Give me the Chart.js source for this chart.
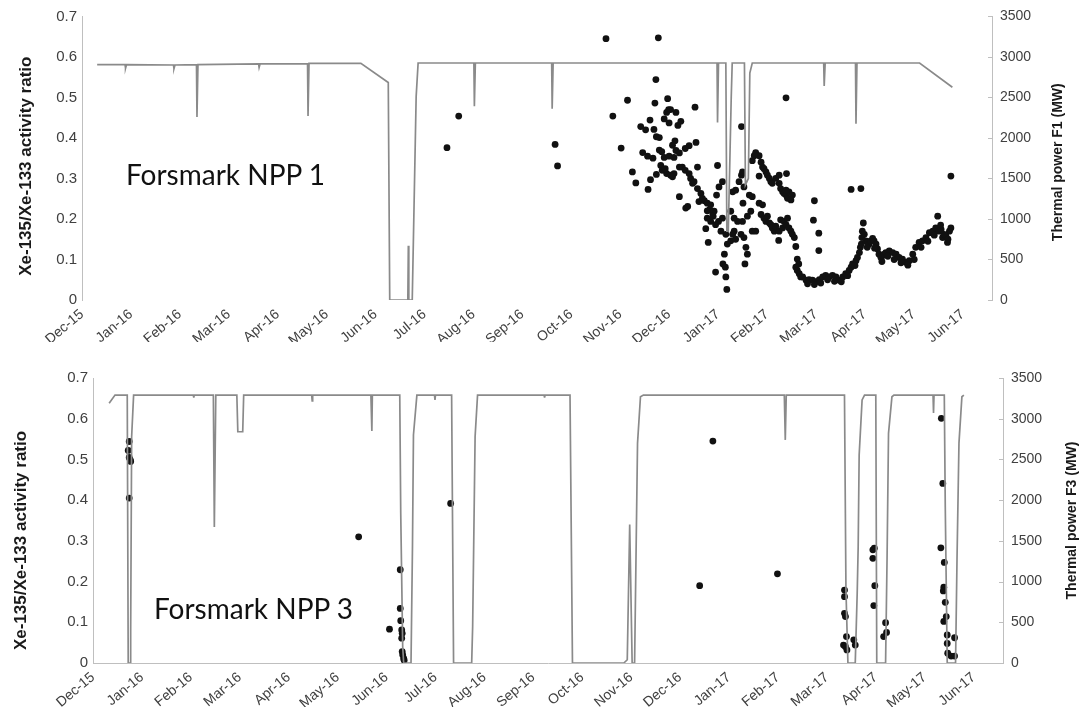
<!DOCTYPE html>
<html>
<head>
<meta charset="utf-8">
<script src="https://cdn.jsdelivr.net/npm/chart.js@4"></script>
<style>
  body { margin: 0; background: #fff; }
  #wrap { position: relative; width: 1082px; height: 707px; overflow: hidden; }
  .pane { position: absolute; left: 0; }
  .plant { position: absolute; font-family: Lato, "Open Sans", sans-serif; font-size: 28px; line-height: 28px; color: #111; white-space: nowrap; }
</style>
</head>
<body>
<div id="wrap">
  <canvas id="top" class="pane" style="top:0" width="1082" height="342"></canvas>
  <canvas id="bottom" class="pane" style="top:358px" width="1082" height="349"></canvas>
  <div class="plant" style="left:126px;top:160px">Forsmark NPP 1</div>
  <div class="plant" style="left:154px;top:594px">Forsmark NPP 3</div>
</div>
<script>
// x values are months counted from Dec-15 (0) to Jun-17 (18)
var monthLabels = ['Dec-15', 'Jan-16', 'Feb-16', 'Mar-16', 'Apr-16', 'May-16', 'Jun-16', 'Jul-16', 'Aug-16',
  'Sep-16', 'Oct-16', 'Nov-16', 'Dec-16', 'Jan-17', 'Feb-17', 'Mar-17', 'Apr-17', 'May-17', 'Jun-17']
var ratioTicks = [0, 0.1, 0.2, 0.3, 0.4, 0.5, 0.6, 0.7]
var powerTicks = [0, 500, 1000, 1500, 2000, 2500, 3000, 3500]

// Xe-135/Xe-133 ratio, unit 1
var npp1Ratio = [
  [7.46, 0.376], [7.70, 0.454], [9.67, 0.384], [9.72, 0.331],
  [10.71, 0.645], [11.78, 0.647], [11.73, 0.544], [11.15, 0.493], [10.85, 0.454], [11.02, 0.375],
  [11.25, 0.316], [11.32, 0.289], [11.57, 0.273], [11.62, 0.297],
  [11.42, 0.428], [11.52, 0.420], [11.61, 0.444], [11.69, 0.421], [11.74, 0.403], [11.80, 0.401],
  [11.71, 0.486], [11.97, 0.497], [11.99, 0.470], [11.95, 0.463], [12.03, 0.470], [12.14, 0.463],
  [11.90, 0.447], [12.00, 0.437], [12.18, 0.431], [12.24, 0.441], [12.53, 0.476], [12.12, 0.393],
  [12.07, 0.382], [12.14, 0.369], [12.21, 0.363], [12.10, 0.352], [12.41, 0.381], [12.33, 0.374],
  [12.55, 0.389], [12.27, 0.328],
  [11.46, 0.364], [11.56, 0.355], [11.67, 0.350], [11.80, 0.370], [11.85, 0.366], [11.90, 0.352],
  [11.83, 0.332], [11.86, 0.320], [11.95, 0.312], [12.03, 0.308], [12.10, 0.312], [12.00, 0.355],
  [12.21, 0.328], [12.33, 0.320], [12.41, 0.312], [12.48, 0.288], [12.44, 0.300], [12.58, 0.275],
  [12.65, 0.263], [12.61, 0.243], [12.72, 0.245], [12.78, 0.239], [12.85, 0.235], [12.92, 0.219],
  [12.97, 0.259], [13.02, 0.279], [13.09, 0.292], [12.99, 0.332], [12.89, 0.215], [12.78, 0.202],
  [12.85, 0.194], [12.95, 0.186], [12.75, 0.176], [13.06, 0.170], [13.16, 0.162], [13.19, 0.138],
  [13.13, 0.113], [13.10, 0.089], [13.15, 0.081], [13.16, 0.057], [13.18, 0.026], [12.95, 0.069],
  [12.80, 0.142], [12.21, 0.255], [12.34, 0.227], [12.38, 0.231], [11.74, 0.310], [12.58, 0.328],
  [11.92, 0.324], [12.07, 0.304], [12.51, 0.292], [12.68, 0.251], [12.83, 0.223], [12.90, 0.207],
  [13.01, 0.194], [13.09, 0.202], [12.78, 0.220],
  [13.30, 0.267], [13.36, 0.271], [13.43, 0.292], [13.48, 0.308], [13.50, 0.316], [13.53, 0.279],
  [13.51, 0.239], [13.64, 0.259], [13.70, 0.255], [13.67, 0.219], [13.60, 0.207], [13.50, 0.194],
  [13.40, 0.194], [13.33, 0.170], [13.26, 0.146], [13.30, 0.162], [13.36, 0.150], [13.47, 0.162],
  [13.53, 0.154], [13.57, 0.130], [13.60, 0.113], [13.55, 0.089], [13.70, 0.170], [13.77, 0.170],
  [13.33, 0.202], [13.26, 0.219],
  [13.70, 0.344], [13.77, 0.364], [13.84, 0.356], [13.88, 0.340], [13.91, 0.328], [13.94, 0.324],
  [13.98, 0.316], [14.01, 0.308], [14.05, 0.300], [14.08, 0.292], [14.11, 0.288], [14.18, 0.300],
  [14.25, 0.288], [14.28, 0.275], [14.32, 0.267], [14.35, 0.263], [14.39, 0.259], [14.42, 0.251],
  [14.45, 0.267], [14.52, 0.259], [14.49, 0.247], [14.39, 0.271], [14.25, 0.308], [13.74, 0.356],
  [13.84, 0.239], [13.91, 0.235], [13.88, 0.211], [13.94, 0.202], [13.98, 0.194], [14.01, 0.207],
  [14.05, 0.190], [14.08, 0.186], [14.11, 0.178], [14.15, 0.170], [14.18, 0.182], [14.25, 0.170],
  [14.32, 0.178], [14.24, 0.147], [14.28, 0.198], [14.35, 0.194], [14.39, 0.186], [14.42, 0.202],
  [14.45, 0.178], [14.49, 0.170], [14.52, 0.162], [14.56, 0.154], [14.59, 0.132], [14.62, 0.101],
  [14.65, 0.089], [14.59, 0.081], [14.62, 0.073], [14.66, 0.065], [14.69, 0.057], [14.73, 0.057],
  [14.80, 0.049], [14.86, 0.050], [14.93, 0.049], [15.00, 0.045], [15.07, 0.050], [15.14, 0.057],
  [15.20, 0.061], [15.27, 0.057], [15.34, 0.061], [15.41, 0.057], [15.48, 0.049], [15.55, 0.057],
  [15.61, 0.065], [15.68, 0.073], [15.72, 0.081], [15.75, 0.089], [15.82, 0.097], [15.85, 0.105],
  [15.89, 0.117], [15.91, 0.130], [15.93, 0.138], [15.94, 0.154], [15.95, 0.170], [15.97, 0.190],
  [15.99, 0.162], [16.02, 0.146], [16.06, 0.142], [16.09, 0.138], [16.12, 0.146], [16.16, 0.152],
  [16.19, 0.146], [16.23, 0.138], [16.26, 0.126], [16.29, 0.113], [16.33, 0.105], [16.36, 0.109],
  [16.40, 0.113], [16.43, 0.117], [16.50, 0.121], [16.57, 0.117], [16.64, 0.113], [16.70, 0.105],
  [16.77, 0.101], [16.84, 0.093], [16.91, 0.097], [16.98, 0.113], [17.04, 0.130], [17.11, 0.142],
  [17.18, 0.146], [17.25, 0.154], [17.32, 0.166], [17.39, 0.170], [17.45, 0.178], [17.49, 0.207],
  [17.52, 0.170], [17.59, 0.154], [17.66, 0.158], [17.73, 0.170], [17.76, 0.178], [17.69, 0.142],
  [17.62, 0.162], [17.56, 0.174],
  [14.83, 0.040], [14.97, 0.038], [15.10, 0.042], [15.24, 0.050], [15.38, 0.046], [15.52, 0.045],
  [15.65, 0.060], [15.80, 0.085], [16.05, 0.130], [16.20, 0.128], [16.35, 0.095], [16.47, 0.108],
  [16.60, 0.100], [16.74, 0.092], [16.88, 0.086], [17.01, 0.100], [17.15, 0.130], [17.29, 0.145],
  [17.42, 0.160], [17.55, 0.185], [17.70, 0.150],
  [13.84, 0.306], [14.95, 0.197], [15.06, 0.165], [15.06, 0.122], [14.97, 0.245], [14.40, 0.312],
  [14.39, 0.499], [13.48, 0.428], [15.72, 0.273], [15.92, 0.275], [17.76, 0.306]
]

var npp3Ratio = [
  [0.74, 0.544], [0.72, 0.522], [0.74, 0.505], [0.76, 0.499], [0.77, 0.495], [0.74, 0.405],
  [5.43, 0.310], [6.06, 0.083], [6.28, 0.229], [6.28, 0.134], [6.29, 0.104], [6.31, 0.081],
  [6.32, 0.073], [6.31, 0.061], [6.32, 0.028], [6.33, 0.020], [6.35, 0.011], [6.36, 0.007],
  [7.31, 0.392], [12.67, 0.545], [12.40, 0.190], [13.99, 0.219],
  [15.36, 0.179], [15.36, 0.163], [15.36, 0.122], [15.38, 0.114], [15.40, 0.065], [15.34, 0.044],
  [15.38, 0.040], [15.41, 0.032], [15.55, 0.057], [15.58, 0.044],
  [15.94, 0.278], [15.97, 0.282], [15.94, 0.257], [15.98, 0.190], [15.96, 0.141], [16.20, 0.099],
  [16.22, 0.075], [16.16, 0.065],
  [17.34, 0.601], [17.37, 0.441], [17.33, 0.283], [17.40, 0.247], [17.39, 0.186], [17.38, 0.177],
  [17.42, 0.149], [17.44, 0.114], [17.39, 0.102], [17.46, 0.069], [17.46, 0.048], [17.47, 0.024],
  [17.54, 0.017], [17.61, 0.062], [17.61, 0.017]
]

// thermal power, MW
var f1Power = [
  [0.31, 2905], [0.88, 2905], [0.89, 2860], [0.91, 2905], [1.87, 2900], [1.88, 2855], [1.90, 2900],
  [2.34, 2905], [2.35, 2260], [2.37, 2905], [3.61, 2915], [3.62, 2870], [3.64, 2915],
  [4.61, 2915], [4.62, 2270], [4.64, 2920], [5.70, 2920], [6.26, 2685], [6.29, 0],
  [6.66, 0], [6.67, 670], [6.68, 0], [6.75, 0], [6.83, 2510], [6.87, 2925],
  [8.01, 2925], [8.02, 2390], [8.04, 2925], [9.60, 2925], [9.61, 2360], [9.63, 2925],
  [12.98, 2925], [12.99, 2190], [13.01, 2925], [13.16, 2925], [13.18, 850], [13.21, 850],
  [13.27, 2500], [13.29, 2925], [13.54, 2925], [13.56, 1420], [13.62, 1500], [13.65, 2800],
  [13.70, 2925], [15.16, 2925], [15.17, 2640], [15.19, 2925], [15.81, 2925], [15.82, 2175],
  [15.84, 2925], [17.12, 2925], [17.79, 2625]
]

var f3Power = [
  [0.33, 3190], [0.45, 3290], [0.70, 3290], [0.72, 0], [0.76, 0], [0.77, 400], [0.79, 2780],
  [0.83, 3290], [2.05, 3290], [2.06, 3260], [2.07, 3290], [2.46, 3290], [2.48, 1670], [2.51, 3290],
  [2.94, 3290], [2.96, 2840], [3.06, 2840], [3.08, 3290], [4.47, 3290], [4.48, 3220], [4.49, 3290],
  [5.68, 3290], [5.70, 2850], [5.71, 3290], [6.27, 3290], [6.29, 1840], [6.33, 200], [6.35, 0],
  [6.50, 0], [6.53, 1430], [6.55, 2800], [6.62, 3290], [6.98, 3290], [6.99, 3230], [7.00, 3290],
  [7.33, 3290], [7.37, 0], [7.74, 0], [7.76, 450], [7.81, 2780], [7.86, 3290], [9.22, 3290],
  [9.23, 3260], [9.24, 3290], [9.75, 3290], [9.80, 0], [10.85, 0], [10.92, 40], [10.97, 1700],
  [11.02, 0], [11.07, 0], [11.13, 2700], [11.19, 3270], [11.25, 3290], [14.13, 3290],
  [14.15, 2740], [14.17, 3290], [15.36, 3290], [15.39, 900], [15.43, 0], [15.58, 0], [15.62, 860],
  [15.64, 1430], [15.66, 2555], [15.72, 3230], [15.77, 3290], [16.00, 3290], [16.02, 0],
  [16.20, 0], [16.23, 1270], [16.26, 2820], [16.33, 3270], [16.37, 3290], [17.17, 3290],
  [17.18, 3070], [17.19, 3290], [17.40, 3290], [17.42, 1920], [17.46, 0], [17.63, 0],
  [17.66, 1270], [17.70, 2700], [17.76, 3270], [17.80, 3290]
]

function toPoints(list) {
  return list.map(function(p) { return {x: p[0], y: p[1]} })
}

var axisGrey = '#bfbfbf'
var tickColor = '#404040'

// vertical titles reading bottom-to-top on both sides, plus short inward ticks on the power axis
function sideTitles(items) {
  return {
    id: 'sideTitles',
    afterDraw: function(chart) {
      var ctx = chart.ctx
      var area = chart.chartArea
      var yP = chart.scales.yP
      ctx.save()
      ctx.strokeStyle = axisGrey
      ctx.lineWidth = 1
      yP.ticks.forEach(function(t) {
        var py = Math.round(yP.getPixelForValue(t.value)) + 0.5
        ctx.beginPath()
        ctx.moveTo(area.right - 4, py)
        ctx.lineTo(area.right, py)
        ctx.stroke()
      })
      ctx.restore()
      items.forEach(function(t) {
        ctx.save()
        ctx.translate(t.x, (area.top + area.bottom) / 2 + t.dy)
        ctx.rotate(-Math.PI / 2)
        ctx.font = t.font
        ctx.fillStyle = '#1a1a1a'
        ctx.textAlign = 'center'
        ctx.textBaseline = 'middle'
        ctx.fillText(t.text, 0, 0)
        ctx.restore()
      })
    }
  }
}

function buildChart(id, cfg) {
  return new Chart(document.getElementById(id), {
    type: 'scatter',
    data: {
      datasets: [{
        type: 'line',
        data: toPoints(cfg.power),
        yAxisID: 'yP',
        borderColor: '#8a8a8a',
        borderWidth: 1.7,
        pointRadius: 0,
        tension: 0,
        fill: false,
        order: 0
      }, {
        type: 'scatter',
        data: toPoints(cfg.ratio),
        yAxisID: 'y',
        backgroundColor: '#111111',
        borderWidth: 0,
        pointRadius: 3.4,
        order: 1
      }]
    },
    options: {
      responsive: false,
      animation: false,
      events: [],
      layout: {padding: {top: cfg.padTop, left: 0, right: 0, bottom: 0}},
      plugins: {legend: {display: false}, tooltip: {enabled: false}},
      scales: {
        x: {
          type: 'linear',
          min: 0,
          max: 18.6,
          border: {display: cfg.xBorder, color: axisGrey},
          grid: {display: false, drawTicks: false},
          ticks: {
            stepSize: 1,
            maxTicksLimit: 30,
            autoSkip: false,
            includeBounds: false,
            minRotation: 40,
            maxRotation: 40,
            padding: 6,
            color: tickColor,
            font: {family: '"Liberation Sans", Arial, sans-serif', size: 14},
            callback: function(v) { return monthLabels[v] || '' }
          },
          afterFit: function(s) { s.height = cfg.xHeight }
        },
        y: {
          position: 'left',
          min: 0,
          max: 0.7,
          border: {display: true, color: axisGrey},
          grid: {display: false, drawTicks: false},
          afterBuildTicks: function(s) { s.ticks = ratioTicks.map(function(v) { return {value: v} }) },
          ticks: {
            padding: 5,
            color: tickColor,
            font: {family: '"Liberation Sans", Arial, sans-serif', size: 15},
            callback: function(v) { return v === 0 ? '0' : v.toFixed(1) }
          },
          afterFit: function(s) { s.width = cfg.leftWidth }
        },
        yP: {
          position: 'right',
          min: 0,
          max: 3500,
          border: {display: true, color: axisGrey},
          grid: {display: false, drawTicks: false},
          afterBuildTicks: function(s) { s.ticks = powerTicks.map(function(v) { return {value: v} }) },
          ticks: {
            padding: 8,
            color: tickColor,
            font: {family: '"Liberation Sans", Arial, sans-serif', size: 14},
            callback: function(v) { return String(v) }
          },
          afterFit: function(s) { s.width = cfg.rightWidth }
        }
      }
    },
    plugins: [sideTitles(cfg.titles)]
  })
}

buildChart('top', {
  power: f1Power,
  ratio: npp1Ratio,
  padTop: 12,
  xHeight: 42,
  xBorder: false,
  leftWidth: 82,
  rightWidth: 90,
  titles: [
    {text: 'Xe-135/Xe-133 activity ratio', x: 26, dy: 8, font: 'bold 17px "Liberation Sans", Arial, sans-serif'},
    {text: 'Thermal power F1 (MW)', x: 1058, dy: 4, font: 'bold 14px "Liberation Sans", Arial, sans-serif'}
  ]
})

buildChart('bottom', {
  power: f3Power,
  ratio: npp3Ratio,
  padTop: 20,
  xHeight: 44,
  xBorder: true,
  leftWidth: 93,
  rightWidth: 79,
  titles: [
    {text: 'Xe-135/Xe-133 activity ratio', x: 21, dy: 20, font: 'bold 17px "Liberation Sans", Arial, sans-serif'},
    {text: 'Thermal power F3 (MW)', x: 1072, dy: 0, font: 'bold 14px "Liberation Sans", Arial, sans-serif'}
  ]
})
</script>
</body>
</html>
